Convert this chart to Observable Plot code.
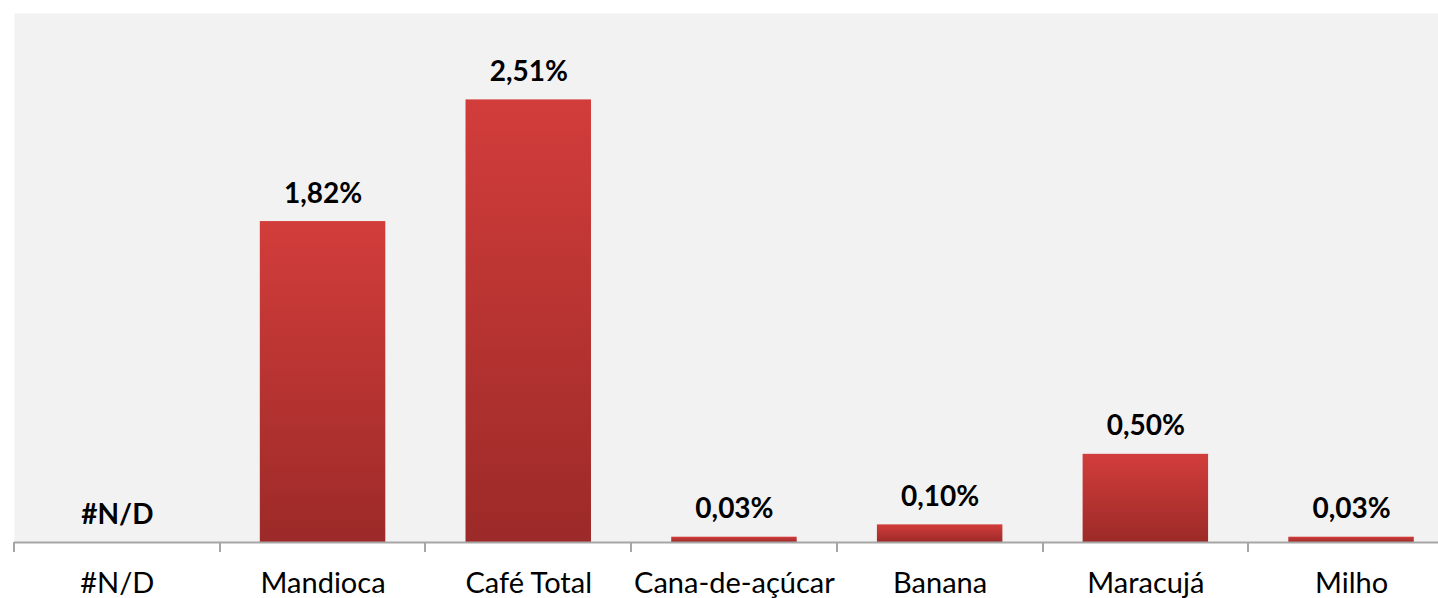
<!DOCTYPE html>
<html>
<head>
<meta charset="utf-8">
<script src="https://cdn.jsdelivr.net/npm/d3@7"></script>
<script src="https://cdn.jsdelivr.net/npm/@observablehq/plot@0.6"></script>
<style>
  html, body { margin: 0; padding: 0; background: #ffffff; }
  #chart svg { display: block; }
</style>
</head>
<body>
<div id="chart"></div>
<script>
const categories = ["#N/D", "Mandioca", "Café Total", "Cana-de-açúcar", "Banana", "Maracujá", "Milho"];
const values = [null, 1.82, 2.51, 0.03, 0.10, 0.50, 0.03];
const valueLabels = ["#N/D", "1,82%", "2,51%", "0,03%", "0,10%", "0,50%", "0,03%"];

const data = categories.map((c, i) => ({category: c, value: values[i], label: valueLabels[i]}));

const W = 1438, H = 598;
const FONT = "Lato, 'Open Sans', sans-serif";

const defs = () => {
  const g = d3.create("svg:defs");
  const lg = g.append("linearGradient").attr("id", "barGrad").attr("x1", 0).attr("y1", 0).attr("x2", 0).attr("y2", 1);
  lg.append("stop").attr("offset", "0%").attr("stop-color", "#d23d3b");
  lg.append("stop").attr("offset", "100%").attr("stop-color", "#9c2a28");
  const f = g.append("filter").attr("id", "shadow").attr("x", "-10%").attr("y", "-10%").attr("width", "130%").attr("height", "130%");
  f.append("feDropShadow").attr("dx", 3).attr("dy", 2).attr("stdDeviation", 2).attr("flood-color", "#000").attr("flood-opacity", 0.22);
  return g.node();
};

const boundaryTicks = (index, scales) => {
  const x = scales.x, y = scales.y;
  const step = x.step();
  const y0 = y(0);
  const g = d3.create("svg:g").attr("stroke", "#a6a6a6").attr("stroke-width", 2);
  categories.forEach(c => {
    const xb = Math.round(x(c) - (step - x.bandwidth()) / 2);
    g.append("line").attr("x1", xb).attr("x2", xb).attr("y1", y0).attr("y2", y0 + 10);
  });
  return g.node();
};

const chart = Plot.plot({
  width: W,
  height: H,
  marginLeft: 14,
  marginRight: 0,
  marginTop: 13,
  marginBottom: 56,
  style: {fontFamily: FONT, background: "#ffffff", overflow: "visible"},
  x: {domain: categories, range: [14, 14 + 7 * 205.7], round: false, paddingInner: 0.39, paddingOuter: 0.195, axis: null},
  y: {domain: [0, 3], axis: null},
  marks: [
    defs,
    Plot.frame({fill: "#f2f2f2", stroke: null}),
    Plot.barY(data.filter(d => d.value != null), {x: "category", y: "value", fill: "url(#barGrad)", style: {filter: "url(#shadow)"}}),
    Plot.ruleY([0], {stroke: "#a6a6a6", strokeWidth: 2}),
    boundaryTicks,
    Plot.text(data, {x: "category", y: d => d.value ?? 0, text: "label", lineAnchor: "bottom", dy: -19, fontSize: 28, fontWeight: "bold", fill: "#000000"}),
    Plot.text(data, {x: "category", y: 0, text: "category", lineAnchor: "bottom", dy: 50, fontSize: 29, fill: "#000000"})
  ]
});
document.getElementById("chart").appendChild(chart);
</script>
</body>
</html>
